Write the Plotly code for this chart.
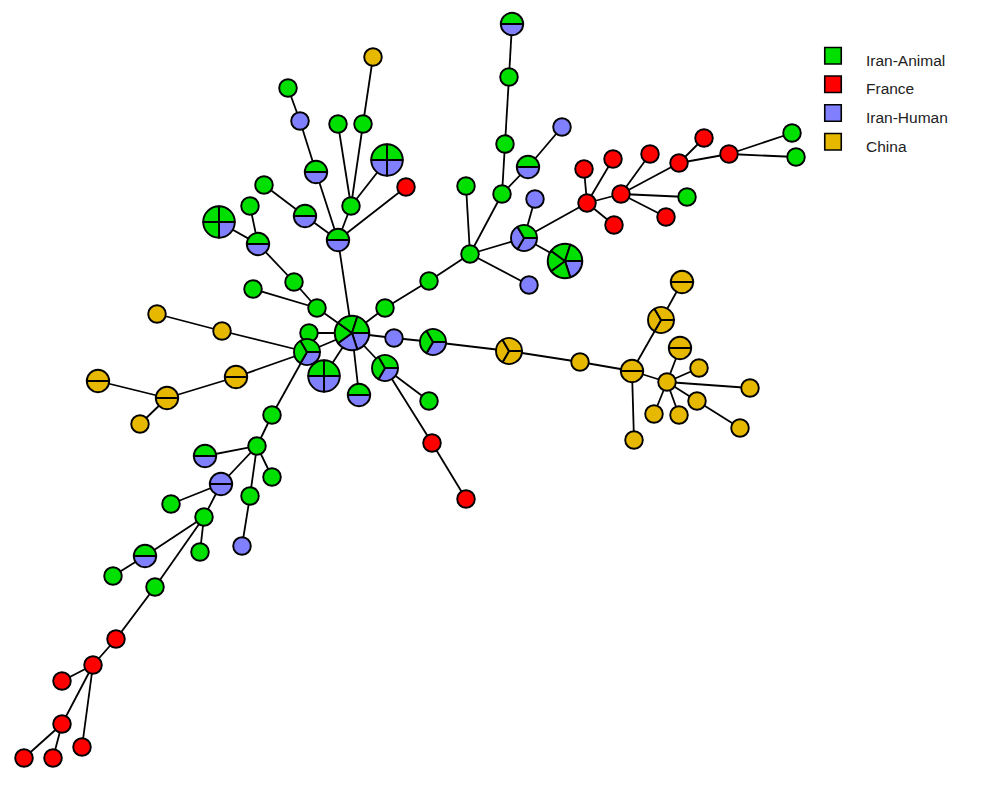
import plotly.graph_objects as go

WIDTH = 1000
HEIGHT = 785

# node positions and how many isolates of each group sit in every node
node_x = [512, 509, 505, 502, 528, 562, 466, 470, 429, 385, 352, 535, 524, 565, 529, 587, 584, 613, 614, 621,
          650, 666, 687, 679, 704, 729, 792, 796, 509, 580, 632, 634, 661, 682, 680, 667, 699, 750, 697, 740,
          654, 679, 394, 433, 385, 429, 432, 466, 359, 324, 309, 317, 294, 253, 258, 250, 219, 338, 305, 264,
          351, 338, 363, 387, 406, 316, 300, 288, 373, 307, 222, 157, 236, 167, 98, 140, 272, 257, 205, 221,
          272, 250, 242, 171, 204, 200, 145, 113, 155, 116, 93, 62, 62, 24, 53, 82]
node_y = [24, 77, 144, 194, 167, 127, 186, 254, 281, 308, 333, 199, 238, 261, 285, 203, 169, 159, 225, 194,
          154, 217, 197, 163, 138, 154, 133, 157, 351, 362, 371, 440, 320, 282, 348, 382, 368, 388, 401, 428,
          414, 415, 338, 342, 368, 401, 443, 499, 395, 376, 333, 308, 282, 289, 244, 206, 222, 240, 216, 185,
          206, 124, 124, 160, 187, 172, 121, 88, 57, 352, 331, 314, 377, 398, 381, 424, 415, 446, 456, 484,
          477, 496, 546, 504, 517, 552, 556, 576, 587, 639, 665, 681, 724, 758, 758, 747]
iran_animal = [1, 1, 1, 1, 1, 0, 1, 1, 1, 1, 3, 0, 1, 4, 0, 0, 0, 0, 0, 0,
               0, 0, 1, 0, 0, 0, 1, 1, 0, 0, 0, 0, 0, 0, 0, 0, 0, 0, 0, 0,
               0, 0, 0, 2, 2, 1, 0, 0, 1, 2, 1, 1, 1, 1, 1, 1, 3, 1, 1, 1,
               1, 1, 1, 2, 0, 1, 0, 1, 0, 2, 0, 0, 0, 0, 0, 0, 1, 1, 1, 0,
               1, 1, 0, 1, 1, 1, 1, 1, 1, 0, 0, 0, 0, 0, 0, 0]
france = [0, 0, 0, 0, 0, 0, 0, 0, 0, 0, 0, 0, 0, 0, 0, 1, 1, 1, 1, 1,
          1, 1, 0, 1, 1, 1, 0, 0, 0, 0, 0, 0, 0, 0, 0, 0, 0, 0, 0, 0,
          0, 0, 0, 0, 0, 0, 1, 1, 0, 0, 0, 0, 0, 0, 0, 0, 0, 0, 0, 0,
          0, 0, 0, 0, 1, 0, 0, 0, 0, 0, 0, 0, 0, 0, 0, 0, 0, 0, 0, 0,
          0, 0, 0, 0, 0, 0, 0, 0, 0, 1, 1, 1, 1, 1, 1, 1]
iran_human = [1, 0, 0, 0, 1, 1, 0, 0, 0, 0, 2, 1, 2, 1, 1, 0, 0, 0, 0, 0,
              0, 0, 0, 0, 0, 0, 0, 0, 0, 0, 0, 0, 0, 0, 0, 0, 0, 0, 0, 0,
              0, 0, 1, 1, 1, 0, 0, 0, 1, 2, 0, 0, 0, 0, 1, 0, 1, 1, 1, 0,
              0, 0, 0, 2, 0, 1, 1, 0, 0, 1, 0, 0, 0, 0, 0, 0, 0, 0, 1, 2,
              0, 0, 1, 0, 0, 0, 1, 0, 0, 0, 0, 0, 0, 0, 0, 0]
china = [0, 0, 0, 0, 0, 0, 0, 0, 0, 0, 0, 0, 0, 0, 0, 0, 0, 0, 0, 0,
         0, 0, 0, 0, 0, 0, 0, 0, 3, 1, 2, 1, 3, 2, 2, 1, 1, 1, 1, 1,
         1, 1, 0, 0, 0, 0, 0, 0, 0, 0, 0, 0, 0, 0, 0, 0, 0, 0, 0, 0,
         0, 0, 0, 0, 0, 0, 0, 0, 1, 0, 1, 1, 2, 2, 2, 1, 0, 0, 0, 0,
         0, 0, 0, 0, 0, 0, 0, 0, 0, 0, 0, 0, 0, 0, 0, 0]

# links between nodes, as indexes into the lists above
edge_from = [0, 1, 2, 3, 4, 3, 6, 7, 8, 9, 7, 7, 12, 12, 12, 15, 15, 15, 15, 19, 19, 19, 19, 23, 23, 25, 25,
             10, 42, 43, 28, 29, 30, 30, 32, 30, 35, 35, 35, 35, 38, 35, 35,
             10, 44, 44, 46, 10, 10, 10, 10, 10, 51, 51, 52, 54, 54, 10, 57, 58, 57, 60, 60, 62, 60, 57, 57, 65, 66,
             69, 70, 69, 72, 73, 73, 69, 76, 77, 77, 77, 77, 81, 79, 79, 84, 84, 86, 84, 88, 89, 90, 90, 90, 92, 92]
edge_to = [1, 2, 3, 4, 5, 7, 7, 8, 9, 10, 12, 14, 11, 13, 15, 16, 17, 18, 19, 20, 21, 22, 23, 24, 25, 26, 27,
           42, 43, 28, 29, 30, 31, 32, 33, 35, 34, 36, 37, 38, 39, 40, 41,
           44, 45, 46, 47, 48, 49, 69, 50, 51, 52, 53, 54, 55, 56, 57, 58, 59, 60, 61, 62, 68, 63, 64, 65, 66, 67,
           70, 71, 72, 73, 74, 75, 76, 77, 78, 79, 80, 81, 82, 83, 84, 85, 86, 87, 88, 89, 90, 91, 92, 95, 93, 94]

group_names = ["Iran-Animal", "France", "Iran-Human", "China"]
group_colors = ["#00E000", "#FF0000", "#8080FF", "#E6B800"]
group_counts = [iran_animal, france, iran_human, china]

# key placement, the text sits a bit lower than its square in the original
key_square_x = [833, 833, 833, 833]
key_square_y = [55.7, 84.3, 113, 141.7]
key_text_x = [866, 866, 866, 866]
key_text_y = [61.7, 90, 119, 147.7]

# node radius in pixels, by number of isolates in the node
radius_by_count = {1: 8.8, 2: 11.2, 3: 13, 4: 15.8, 5: 17.3}

fig = go.Figure()

# links go underneath, on a pixel-sized axis so they line up with the pies
edge_xs = []
edge_ys = []
for a, b in zip(edge_from, edge_to):
    edge_xs += [node_x[a], node_x[b], None]
    edge_ys += [node_y[a], node_y[b], None]
fig.add_trace(go.Scatter(x=edge_xs, y=edge_ys, mode="lines",
                         line=dict(color="black", width=1.8),
                         hoverinfo="skip", showlegend=False))

# one pie per node, each isolate gets its own slice
for i in range(len(node_x)):
    slice_colors = []
    slice_labels = []
    for name, color, counts in zip(group_names, group_colors, group_counts):
        slice_colors += [color] * counts[i]
        slice_labels += [name] * counts[i]
    # clockwise from 3 o'clock, so the list is reversed to get the first group on top
    slice_colors.reverse()
    slice_labels.reverse()
    r = radius_by_count[len(slice_colors)]
    fig.add_trace(go.Pie(values=[1] * len(slice_colors),
                         labels=[f"{label} {k}" for k, label in enumerate(slice_labels)],
                         sort=False, direction="clockwise", rotation=90,
                         marker=dict(colors=slice_colors, line=dict(color="black", width=1.9)),
                         textinfo="none", showlegend=False,
                         domain=dict(x=[(node_x[i] - r) / WIDTH, (node_x[i] + r) / WIDTH],
                                     y=[1 - (node_y[i] + r) / HEIGHT, 1 - (node_y[i] - r) / HEIGHT])))

# key at the top right
fig.add_trace(go.Scatter(x=key_square_x, y=key_square_y, mode="markers",
                         marker=dict(symbol="square", size=16.5, color=group_colors,
                                     line=dict(color="black", width=1.6)),
                         hoverinfo="skip", showlegend=False))
fig.add_trace(go.Scatter(x=key_text_x, y=key_text_y, mode="text", text=group_names,
                         textposition="middle right",
                         textfont=dict(family="Liberation Sans", size=15.5, color="#222222"),
                         hoverinfo="skip", showlegend=False))

fig.update_layout(
    width=WIDTH,
    height=HEIGHT,
    margin=dict(l=0, r=0, t=0, b=0),
    paper_bgcolor="white",
    plot_bgcolor="white",
    showlegend=False,
)
fig.update_xaxes(range=[0, WIDTH], visible=False, fixedrange=True)
fig.update_yaxes(range=[HEIGHT, 0], visible=False, fixedrange=True)

fig.write_html("out.html", config=dict(displayModeBar=False),
               post_script="document.body.style.margin = '0';")
